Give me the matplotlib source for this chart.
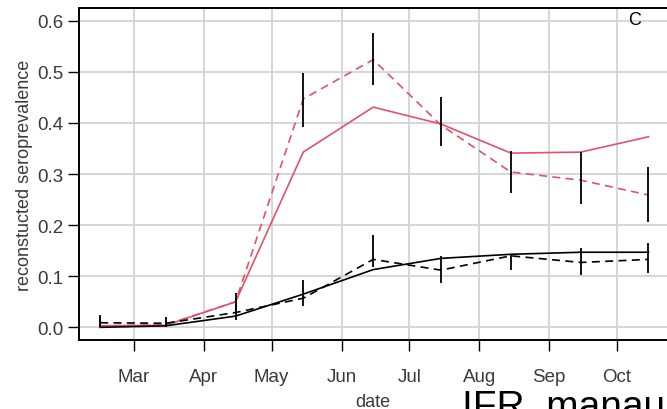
import matplotlib
matplotlib.use('Agg')
import matplotlib.pyplot as plt
import matplotlib.dates as mdates
import datetime as dt

plt.rcParams['font.family'] = ['Liberation Sans', 'DejaVu Sans']

# mid-month sampling dates
dates = [dt.date(2020, m, 15) for m in range(2, 11)]

# reconstructed seroprevalence (model, solid) and observed (dashed)
red_model = [0.003, 0.004, 0.050, 0.343, 0.431, 0.398, 0.341, 0.343, 0.373]
red_obs = [0.003, 0.005, 0.050, 0.447, 0.524, 0.396, 0.304, 0.288, 0.259]
red_lo = [0.000, 0.000, 0.030, 0.392, 0.475, 0.355, 0.263, 0.241, 0.206]
red_hi = [0.024, 0.020, 0.068, 0.498, 0.576, 0.451, 0.345, 0.343, 0.314]

black_model = [0.000, 0.003, 0.022, 0.065, 0.113, 0.135, 0.143, 0.147, 0.147]
black_obs = [0.009, 0.008, 0.029, 0.057, 0.133, 0.112, 0.140, 0.127, 0.133]
black_lo = [0.000, 0.000, 0.014, 0.041, 0.118, 0.086, 0.112, 0.102, 0.106]
black_hi = [0.020, 0.015, 0.045, 0.092, 0.180, 0.139, 0.143, 0.155, 0.166]

month_ticks = [dt.date(2020, m, 1) for m in range(3, 11)]
month_labels = ['Mar', 'Apr', 'May', 'Jun', 'Jul', 'Aug', 'Sep', 'Oct']
y_ticks = [0.0, 0.1, 0.2, 0.3, 0.4, 0.5, 0.6]

red = '#DF536B'
tick_col = '#3a3a3a'

fig = plt.figure(figsize=(6.67, 4.10), dpi=100)
ax = fig.add_axes([0.1184, 0.168, 0.8816, 0.810])

ax.grid(True, color='#d3d3d3', linewidth=1.3)
ax.set_axisbelow(True)

ax.plot(dates, red_model, color=red, lw=1.2)
ax.plot(dates, red_obs, color=red, lw=1.2, dashes=(4.8, 3.2))
ax.plot(dates, black_model, color='black', lw=1.2)
ax.plot(dates, black_obs, color='black', lw=1.2, dashes=(4.8, 3.2))
ax.vlines(dates, red_lo, red_hi, color='black', lw=1.3)
ax.vlines(dates, black_lo, black_hi, color='black', lw=1.3)

ax.set_xlim(mdates.date2num(dt.date(2020, 2, 5)) + 0.6,
            mdates.date2num(dt.date(2020, 10, 23)) + 0.2)
ax.set_ylim(-0.025, 0.625)
ax.set_xticks(month_ticks)
ax.set_xticklabels(month_labels)
ax.set_yticks(y_ticks)
ax.set_yticklabels(['%.1f' % v for v in y_ticks])

ax.tick_params(direction='out', length=8, width=1, color='black',
               labelsize=13.5, labelcolor=tick_col, pad=3)
ax.tick_params(axis='x', pad=12)
for side in ['left', 'bottom', 'top']:
    ax.spines[side].set_linewidth(1.4)
ax.spines['right'].set_visible(False)

ax.set_ylabel('reconstucted seroprevalence', fontsize=13, color=tick_col,
              labelpad=3)
ax.set_xlabel('date', fontsize=13, color=tick_col, labelpad=6)

ax.text(0.944, 0.965, 'C', transform=ax.transAxes, fontsize=13,
        ha='center', va='center')

# heading of the next panel, running off the bottom edge
fig.text(0.693, -0.02, 'IFR  manaus', fontsize=28, ha='left',
         va='baseline', color='black')

fig.savefig('out.png', dpi=100)
